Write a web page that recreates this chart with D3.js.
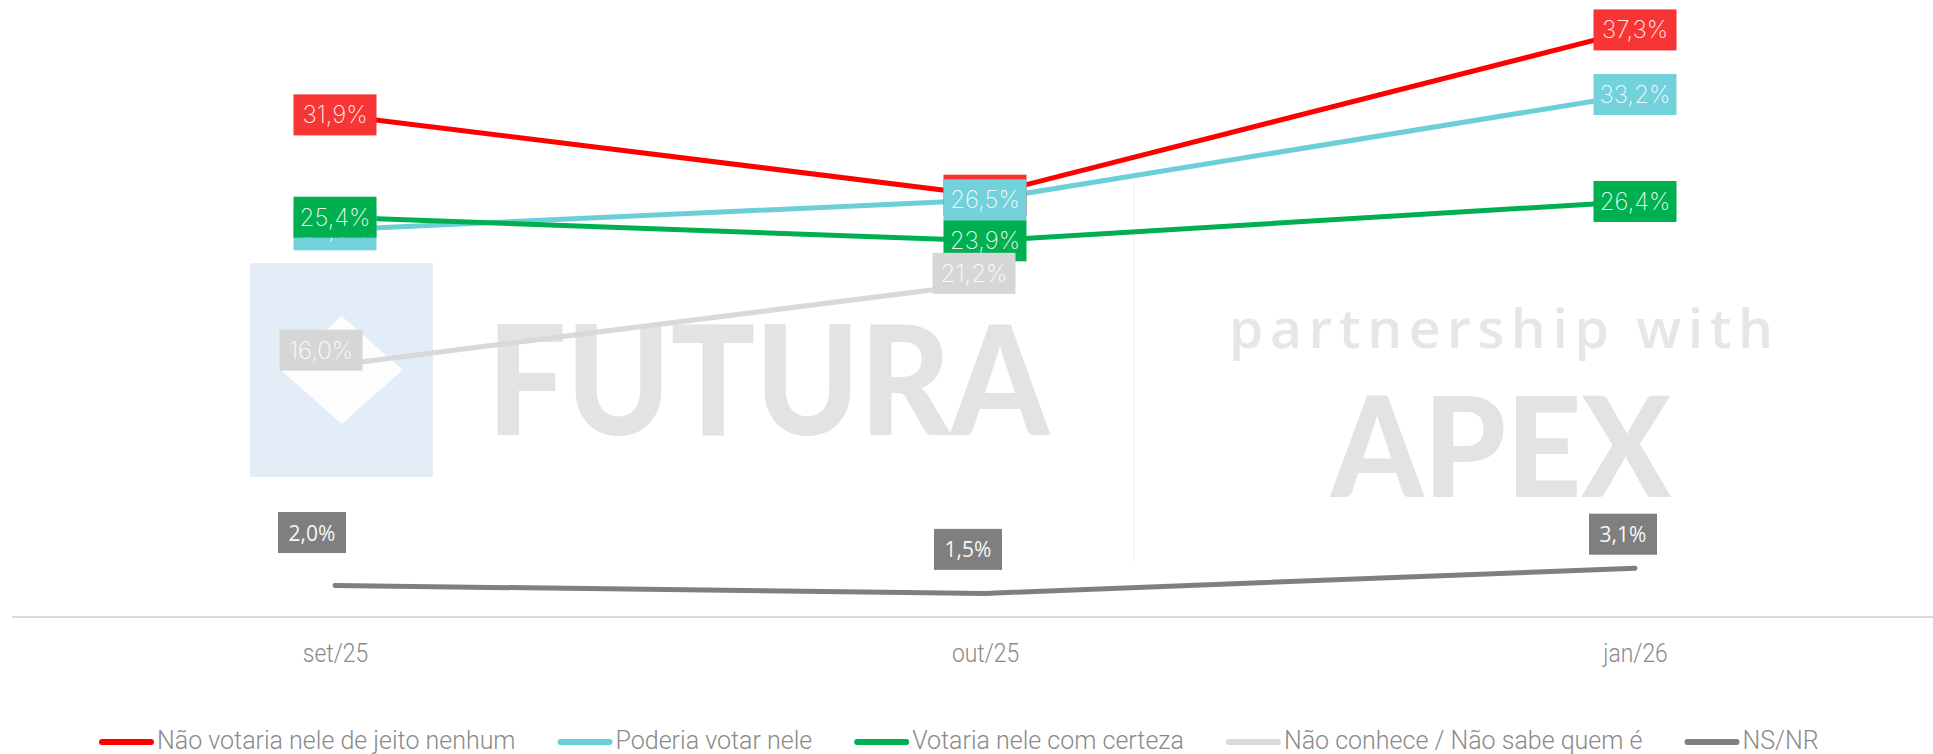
<!DOCTYPE html>
<html>
<head>
<meta charset="utf-8">
<script src="https://cdn.jsdelivr.net/npm/d3@7"></script>
<style>
  html, body { margin: 0; padding: 0; background: #ffffff; }
  svg { display: block; }
</style>
</head>
<body>
<svg id="chart" width="1933" height="754"></svg>
<script>
// Survey waves
const categories = ["set/25", "out/25", "jan/26"];

// Series values (%), null = not asked in that wave
const naoVotaria     = [31.9, 26.8, 37.3];
const poderiaVotar   = [24.6, 26.5, 33.2];
const votariaCerteza = [25.4, 23.9, 26.4];
const naoConhece     = [16.0, 21.2, null];
const nsnr           = [2.0, 1.5, 3.1];

const seriesNames = [
  "Não votaria nele de jeito nenhum",
  "Poderia votar nele",
  "Votaria nele com certeza",
  "Não conhece / Não sabe quem é",
  "NS/NR"
];

const series = [
  { name: seriesNames[0], values: naoVotaria,     line: "#ff0000", box: "#f83535", style: "thin" },
  { name: seriesNames[1], values: poderiaVotar,   line: "#6ccfd8", box: "#72d1da", style: "thin" },
  { name: seriesNames[2], values: votariaCerteza, line: "#00b050", box: "#00b050", style: "thin" },
  { name: seriesNames[3], values: naoConhece,     line: "#d9d9d9", box: "#d6d6d6", style: "thin" },
  { name: seriesNames[4], values: nsnr,           line: "#7f7f7f", box: "#7f7f7f", style: "plain" }
];

// Manual nudges of individual data labels (px), per series and wave
const labelNudge = [
  [[0, 0], [0, 0], [0, 0]],
  [[0, 0], [0, 0], [0, 0]],
  [[0, 0], [0, 0], [0, 0]],
  [[-14, -15], [-11, -10], [0, 0]],
  [[-23, -53], [-17, -44], [-12, -34]]
];

const fmt = v => v.toFixed(1).replace(".", ",") + "%";

// Narrow the light axis/legend font a little for a condensed look
function condense(sel, factor) {
  sel.each(function () {
    const w = this.getComputedTextLength();
    d3.select(this).attr("textLength", w * factor).attr("lengthAdjust", "spacingAndGlyphs");
  });
}

const svg = d3.select("#chart");

const x = d3.scalePoint().domain(categories).range([335, 1635]);
const y = d3.scaleLinear().domain([0, 40]).range([617, 617 - 40 * 15.74]);

// ---- Watermark ----
const wm = svg.append("g").attr("class", "watermark");
wm.append("rect").attr("x", 250).attr("y", 263).attr("width", 183).attr("height", 214).attr("fill", "#e3edf7");
wm.append("path")
  .attr("d", "M341.7,316 L402.7,370 L341.7,424 L280.7,370 Z")
  .attr("fill", "#fdfdfd");
wm.append("text")
  .attr("x", 487).attr("y", 435)
  .attr("textLength", 562).attr("lengthAdjust", "spacingAndGlyphs")
  .attr("font-family", "Lato, 'DejaVu Sans', sans-serif")
  .attr("font-weight", 900)
  .attr("font-size", 152)
  .attr("fill", "#e3e3e3")
  .text("FUTURA");
wm.append("text")
  .attr("x", 1229).attr("y", 347.5)
  .attr("textLength", 544).attr("lengthAdjust", "spacing")
  .attr("font-family", "'Open Sans', sans-serif")
  .attr("font-weight", 600)
  .attr("font-size", 55)
  .attr("fill", "#e6e6e6")
  .text("partnership with");
wm.append("text")
  .attr("x", 1331).attr("y", 497)
  .attr("textLength", 340).attr("lengthAdjust", "spacingAndGlyphs")
  .attr("font-family", "Lato, 'DejaVu Sans', sans-serif")
  .attr("font-weight", 900)
  .attr("font-size", 140)
  .attr("fill", "#e3e3e3")
  .text("APEX");
wm.append("line")
  .attr("x1", 1134).attr("x2", 1134).attr("y1", 182).attr("y2", 562)
  .attr("stroke", "#f3f3f3").attr("stroke-width", 1.5);

// ---- Category axis ----
const axis = svg.append("g").attr("transform", `translate(0,${y(0)})`)
  .call(d3.axisBottom(x).tickSize(0).tickPadding(27));
axis.select(".domain").remove();
axis.append("line")
  .attr("x1", 12).attr("x2", 1933).attr("y1", 0).attr("y2", 0)
  .attr("stroke", "#d9d9d9").attr("stroke-width", 2);
axis.selectAll(".tick text")
  .attr("font-family", "Roboto, sans-serif")
  .attr("font-weight", 300)
  .attr("font-size", 26)
  .attr("fill", "#8a8a8a")
  .call(condense, 0.88);

// ---- Lines ----
const lineGen = d3.line()
  .defined(d => d.v != null)
  .x(d => x(d.c))
  .y(d => y(d.v));

const linesG = svg.append("g");
series.forEach(s => {
  const pts = categories.map((c, i) => ({ c, v: s.values[i] }));
  linesG.append("path")
    .datum(pts)
    .attr("d", lineGen)
    .attr("fill", "none")
    .attr("stroke", s.line)
    .attr("stroke-width", 5)
    .attr("stroke-linecap", "round")
    .attr("stroke-linejoin", "round");
});

// ---- Data labels ----
const labelsG = svg.append("g");
series.forEach((s, si) => {
  s.values.forEach((v, i) => {
    if (v == null) return;
    const [dx, dy] = labelNudge[si][i];
    const cx = x(categories[i]) + dx;
    const cy = y(v) + dy;
    const plain = s.style === "plain";
    const w = plain ? 68 : 83;
    const h = 41;
    const g = labelsG.append("g");
    g.append("rect")
      .attr("x", cx - w / 2).attr("y", cy - h / 2)
      .attr("width", w).attr("height", h)
      .attr("fill", s.box);
    g.append("text")
      .attr("x", cx).attr("y", cy)
      .attr("text-anchor", "middle")
      .attr("dominant-baseline", "central")
      .attr("font-family", plain ? "'Open Sans', sans-serif" : "Inter, sans-serif")
      .attr("font-weight", plain ? 400 : 200)
      .attr("font-size", plain ? 21 : 24)
      .attr("fill", "#ffffff")
      .attr("fill-opacity", plain ? 0.95 : 0.92)
      .text(fmt(v));
  });
});

// ---- Legend ----
const legend = svg.append("g").attr("transform", "translate(0,740)");
let lx = 99;
series.forEach(s => {
  const item = legend.append("g");
  item.append("line")
    .attr("x1", lx + 3).attr("x2", lx + 52).attr("y1", 2).attr("y2", 2)
    .attr("stroke", s.line).attr("stroke-width", 6).attr("stroke-linecap", "round");
  const t = item.append("text")
    .attr("x", lx + 58).attr("y", 0)
    .attr("dominant-baseline", "central")
    .attr("font-family", "Roboto, sans-serif")
    .attr("font-weight", 300)
    .attr("font-size", 25)
    .attr("fill", "#8a8a8a")
    .text(s.name)
    .call(condense, 1.0);
  lx += 58 + +t.attr("textLength") + 42;
});
</script>
</body>
</html>
